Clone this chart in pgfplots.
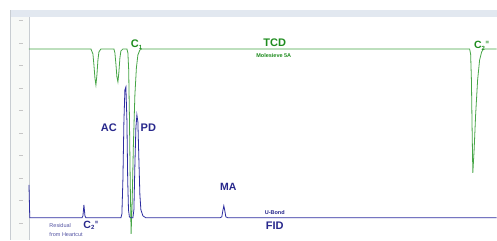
\documentclass[border=0pt]{standalone}
\usepackage{pgfplots}
\pgfplotsset{compat=1.18}
\usepackage{fontspec}
\setmainfont{Liberation Sans}
\definecolor{tcdline}{RGB}{70,165,70}
\definecolor{tcdtext}{RGB}{30,140,30}
\definecolor{fidline}{RGB}{45,45,160}
\definecolor{fidtext}{RGB}{40,40,140}
\definecolor{barbg}{RGB}{226,232,240}
\definecolor{gutter}{RGB}{247,249,247}
\definecolor{frame}{RGB}{200,205,210}
\begin{document}
\begin{tikzpicture}
\begin{axis}[scale only axis, width=497pt, height=240pt,
  xmin=0, xmax=497, ymin=0, ymax=240, axis lines=none, clip=false]
% window decorations
\fill[white] (axis cs:0,0) rectangle (axis cs:497,240);
\fill[barbg] (axis cs:10,223) rectangle (axis cs:497,230);
\fill[gutter] (axis cs:10,0) rectangle (axis cs:29,223);
\draw[frame, line width=0.4pt] (axis cs:10,0) -- (axis cs:10,230);
\draw[frame, line width=0.4pt] (axis cs:29,0) -- (axis cs:29,223);
\pgfplotsinvokeforeach{220,197,175,152,130,107,85,62,40,17}{
  \draw[gray!45, line width=0.5pt] (axis cs:19,#1) -- (axis cs:23,#1);
}
% TCD trace
\addplot[tcdline, line width=0.8pt] coordinates {
(29,191) (91,191) (93,186) (94,175) (95,162) (96,155) (97,165) (98,180) (99,188) (101,191)
(114,191) (115,187) (116,176) (117,163) (118,158) (119,168) (120,182) (121,189) (123,191)
(127,191) (128,187) (128.8,170) (129.5,125) (130.3,60) (131.2,6) (132.2,35) (133.5,95)
(135,145) (136.5,172) (138,185) (140,190) (142,191)
(470,191) (471,186) (471.8,160) (472.5,110) (473.2,67) (474.5,90) (476,125) (478,160)
(480,180) (482,188) (484,191) (497,191)};
% FID trace
\addplot[fidline, line width=0.8pt] coordinates {
(29,55) (29.8,22) (82,22) (83,24) (84,35) (85,24) (86,22)
(121,22) (122,26) (123,60) (124,118) (125,150) (126,153) (127,120) (127.8,60) (128.6,30) (129.5,23) (130.5,22)
(133,22) (134,30) (135,75) (136,112) (137,125) (138,118) (139,80) (140,45) (141,30) (143,24) (146,22)
(220,22) (222,23) (223,29) (224,34) (225,29) (226,23) (228,22) (497,22)};
% labels
\node[tcdtext, font=\bfseries\fontsize{11}{12}\selectfont, anchor=base west] at (axis cs:127.5,192) {C\textsubscript{\fontsize{6}{6}\selectfont 1}};
\node[tcdtext, font=\bfseries\fontsize{11}{12}\selectfont] at (axis cs:275,197) {TCD};
\node[tcdtext, font=\bfseries\fontsize{5.5}{6}\selectfont] at (axis cs:274,184) {Molesieve 5A};
\node[tcdtext, font=\bfseries\fontsize{10.5}{12}\selectfont, anchor=base west] at (axis cs:471,191.5) {C\textsubscript{\fontsize{6}{6}\selectfont 2}\textsuperscript{\fontsize{6}{6}\selectfont =}};
\node[fidtext, font=\bfseries\fontsize{11}{12}\selectfont] at (axis cs:109,112) {AC};
\node[fidtext, font=\bfseries\fontsize{11}{12}\selectfont] at (axis cs:148.5,112) {PD};
\node[fidtext, font=\bfseries\fontsize{10.5}{12}\selectfont] at (axis cs:228.5,53) {MA};
\node[fidtext, font=\bfseries\fontsize{5.5}{6}\selectfont] at (axis cs:275,27) {U-Bond};
\node[fidtext, font=\bfseries\fontsize{11}{12}\selectfont] at (axis cs:275,14) {FID};
\node[fidtext!80, font=\fontsize{5.5}{6}\selectfont, anchor=west] at (axis cs:46,14) {Residual};
\node[fidtext, font=\bfseries\fontsize{10.5}{12}\selectfont, anchor=base west] at (axis cs:80,11.5) {C\textsubscript{\fontsize{6}{6}\selectfont 2}\textsuperscript{\fontsize{6}{6}\selectfont =}};
\node[fidtext!80, font=\fontsize{5.5}{6}\selectfont, anchor=west] at (axis cs:46,5.5) {from Heartcut};
\end{axis}
\end{tikzpicture}
\end{document}
